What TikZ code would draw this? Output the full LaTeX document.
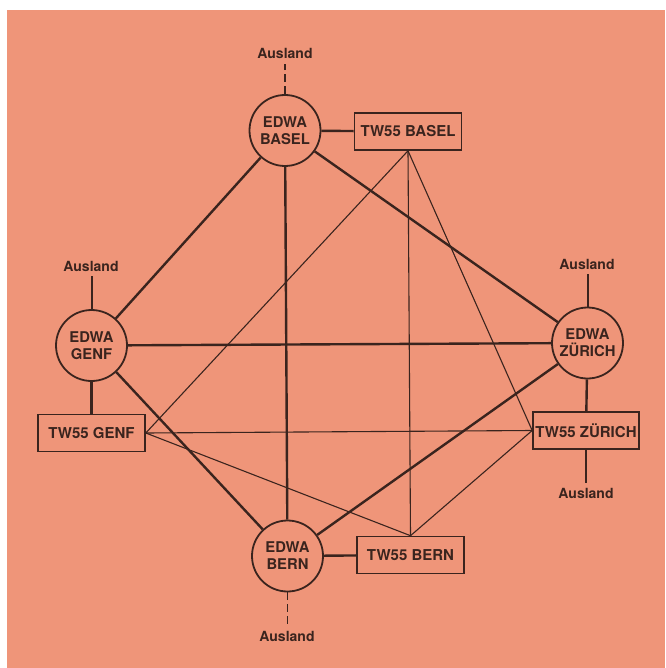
\documentclass[tikz,border=0pt]{standalone}
\usepackage{fontspec}
\setmainfont{TeX Gyre Heros}
\definecolor{salmon}{RGB}{239,149,121}
\definecolor{ink}{RGB}{58,36,30}
\begin{document}
\begin{tikzpicture}[x=1pt,y=-1pt,
  edwa/.style={circle,draw=ink,line width=1.8pt,minimum size=71pt,inner sep=0pt,align=center,font=\fontsize{14.8}{17}\selectfont\bfseries,text=ink},
  tw/.style={rectangle,draw=ink,line width=1.6pt,minimum width=107pt,minimum height=37pt,inner sep=2pt,font=\fontsize{15}{17}\selectfont\bfseries,text=ink},
  aus/.style={inner sep=0pt,font=\fontsize{14}{16}\selectfont\bfseries,text=ink},
  heavy/.style={draw=ink,line width=2.4pt},
  light/.style={draw=ink,line width=1.1pt},
  dashline/.style={draw=ink,line width=1.5pt,dash pattern=on 8pt off 4pt}]
\useasboundingbox (0,0) rectangle (665,668);
\fill[white] (0,0) rectangle (665,668);
\fill[salmon] (7,10) rectangle (665,668);
% EDWA nodes
\node[edwa] (eb) at (285,130.5) {EDWA\\BASEL};
\node[edwa] (eg) at (91.5,345.5) {EDWA\\GENF};
\node[edwa] (ez) at (587.5,343) {EDWA\\ZÜRICH};
\node[edwa] (ebe) at (287.5,556) {EDWA\\BERN};
% TW55 nodes
\node[tw] (tb) at (408,131.5) {TW55 BASEL};
\node[tw] (tg) at (91.5,433) {TW55 GENF};
\node[tw,minimum width=106pt] (tz) at (586,430.5) {TW55 ZÜRICH};
\node[tw] (tbe) at (410.5,555) {TW55 BERN};
% Ausland labels
\node[aus] (a1) at (285,53) {Ausland};
\node[aus] (a2) at (91,266) {Ausland};
\node[aus] (a3) at (587,264) {Ausland};
\node[aus] (a4) at (586,493) {Ausland};
\node[aus] (a5) at (287,636) {Ausland};
\coordinate (c1) at (285,64);
\coordinate (c2) at (91.5,276);
\coordinate (c3) at (587.5,274);
\coordinate (c4) at (586,483);
\coordinate (c5) at (287.5,627);
% Ausland lines
\draw[dashline] (eb.north) -- (c1);
\draw[heavy,line width=2pt] (eg.north) -- (c2);
\draw[heavy,line width=2pt] (ez.north) -- (c3);
\draw[light] (tz.south) -- (c4);
\draw[dashline] (ebe.south) -- (c5);
% TW55 mesh
\draw[light] (tb.south) -- (tg.east);
\draw[light] (tb.south) -- (tbe.north);
\draw[light] (tb.south) -- (tz.west);
\draw[light] (tg.east) -- (tz.west);
\draw[light] (tg.east) -- (tbe.north);
\draw[light] (tz.west) -- (tbe.north);
% EDWA mesh
\draw[heavy] (eb) -- (eg);
\draw[heavy] (eb) -- (ebe);
\draw[heavy] (eb) -- (ez);
\draw[heavy] (eg) -- (ez);
\draw[heavy] (eg) -- (ebe);
\draw[heavy] (ez) -- (ebe);
% EDWA to TW55
\draw[heavy] (eb) -- (tb);
\draw[heavy] (eg) -- (tg);
\draw[heavy] (ez) -- (tz);
\draw[heavy] (ebe) -- (tbe);
\end{tikzpicture}
\end{document}
